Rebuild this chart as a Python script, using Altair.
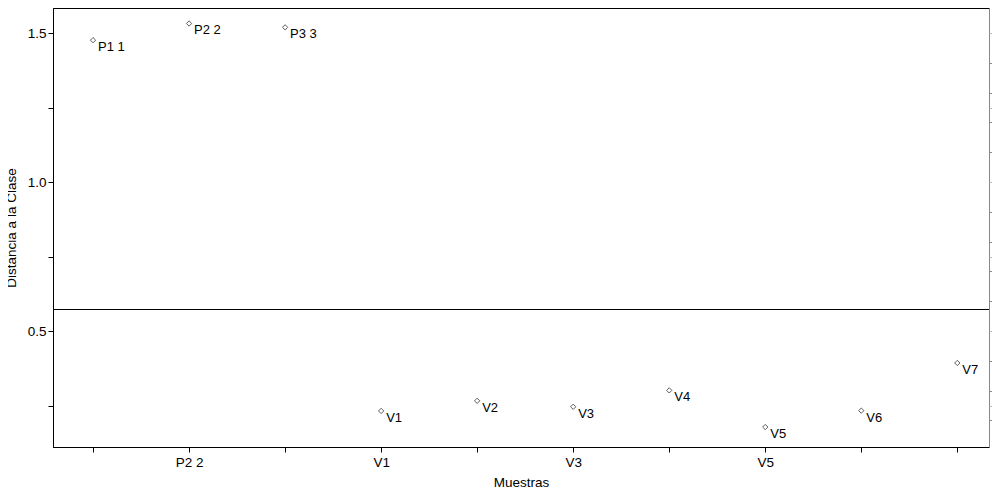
import altair as alt
import pandas as pd

samples = ["P1 1", "P2 2", "P3 3", "V1", "V2", "V3", "V4", "V5", "V6", "V7"]
positions = [1, 2, 3, 4, 5, 6, 7, 8, 9, 10]
distances = [1.476, 1.532, 1.519, 0.232, 0.266, 0.246, 0.301, 0.178, 0.233, 0.393]
tick_labels = ["", "P2 2", "", "V1", "", "V3", "", "V5", "", ""]
y_ticks = [0.25, 0.5, 0.75, 1.0, 1.25, 1.5]
y_labeled = [0.5, 1.0, 1.5]
threshold = 0.5724

df = pd.DataFrame({"pos": positions, "dist": distances, "sample": samples})

FONT = "Liberation Sans"
x_label_expr = " : ".join(
    f"datum.value == {p} ? '{l}'" for p, l in zip(positions, tick_labels)
) + " : ''"
y_label_expr = " : ".join(
    f"abs(datum.value - {v}) < 0.001 ? '{v:.1f}'" for v in y_labeled
) + " : ''"

xscale = alt.Scale(domain=[0.583, 10.33], nice=False, zero=False)
yscale = alt.Scale(domain=[0.111, 1.584], nice=False, zero=False)

xaxis = alt.Axis(values=positions, labelExpr=x_label_expr, grid=False,
                 domainColor="black", tickColor="black", tickSize=5,
                 labelFont=FONT, labelFontSize=13.5, labelColor="black",
                 labelPadding=3, title="Muestras", titleFont=FONT,
                 titleFontSize=13.5, titleFontWeight="normal", titleColor="black",
                 titlePadding=7)
yaxis = alt.Axis(values=y_ticks, labelExpr=y_label_expr, grid=False,
                 domainColor="black", tickColor="black", tickSize=5,
                 labelFont=FONT, labelFontSize=13.5, labelColor="black",
                 labelPadding=2, title="Distancia a la Clase", titleFont=FONT,
                 titleFontSize=13.5, titleFontWeight="normal", titleColor="black",
                 titlePadding=9)

base = alt.Chart(df)

points = base.mark_point(shape="diamond", filled=False, size=28,
                         color="black", strokeWidth=0.9).encode(
    x=alt.X("pos:Q", scale=xscale, axis=xaxis),
    y=alt.Y("dist:Q", scale=yscale, axis=yaxis),
)

labels = base.mark_text(align="left", baseline="middle", dx=5, dy=7,
                        font=FONT, fontSize=13, color="black").encode(
    x=alt.X("pos:Q", scale=xscale),
    y=alt.Y("dist:Q", scale=yscale),
    text="sample:N",
)

rule = alt.Chart(pd.DataFrame({"t": [threshold]})).mark_rule(
    color="black", strokeWidth=1).encode(
    y=alt.Y("t:Q", scale=yscale),
)

right_ticks = alt.Chart(pd.DataFrame({"t": [threshold]})).mark_rule(
    opacity=0).encode(
    y=alt.Y("t:Q", scale=yscale,
            axis=alt.Axis(orient="right", values=y_ticks, labels=False,
                          title=None, grid=False, domain=False,
                          tickColor="#bbbbbb", tickSize=3)),
)

chart = alt.layer(points, labels, rule, right_ticks).resolve_axis(
    y="independent"
).properties(
    width=936, height=439,
    padding={"left": 45, "top": 0, "right": 3, "bottom": 44},
    autosize=alt.AutoSizeParams(type="none"),
).configure(
    background="white"
).configure_view(
    stroke="black", strokeWidth=1
)

chart.save("out.html", embed_options={"renderer": "svg", "actions": False})
